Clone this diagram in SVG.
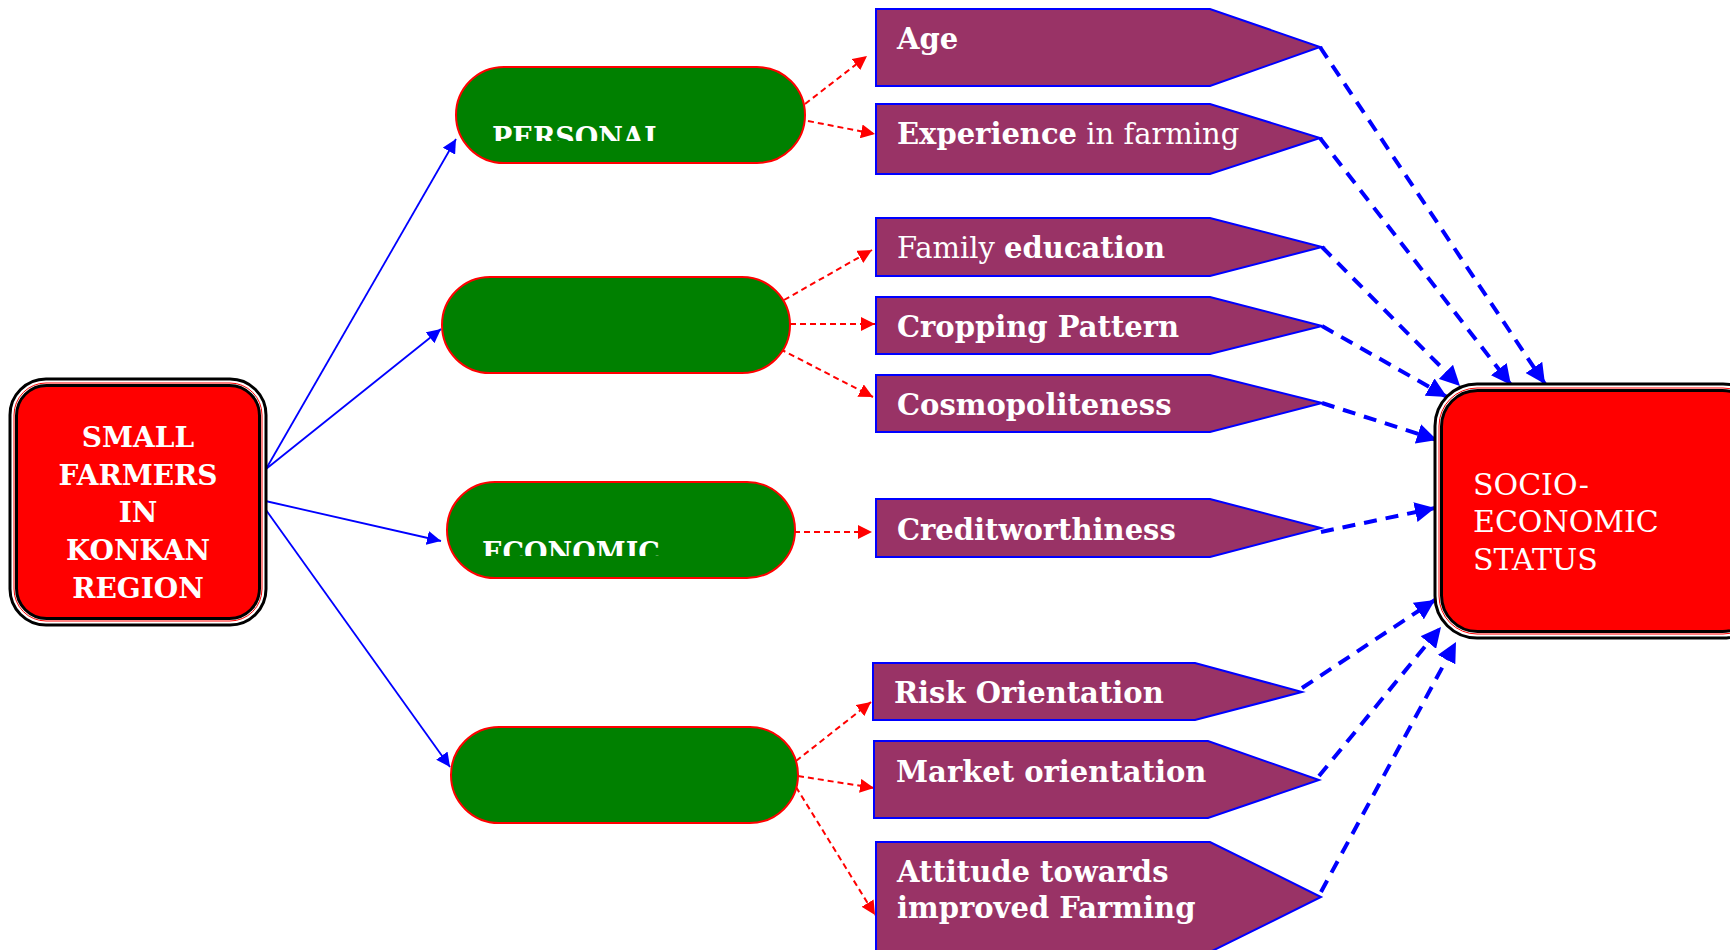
<svg xmlns="http://www.w3.org/2000/svg" width="1730" height="950" viewBox="0 0 1730 950">
  <style>
    .pill { fill: #008000; stroke: #ff0000; stroke-width: 2; }
    .tag { fill: #993366; stroke: #0000ff; stroke-width: 2; }
    .tagtxt { font-family: "DejaVu Serif", serif; font-size: 29px; fill: #ffffff; }
    .b { font-weight: bold; }
    .n { font-weight: normal; }
    .pilltxt { font-family: "DejaVu Serif", serif; font-weight: bold; font-size: 27px; fill: #ffffff; }
    .red { stroke: #ff0000; stroke-width: 2; stroke-dasharray: 6 4; fill: none; }
    .blue { stroke: #0000ff; stroke-width: 1.8; fill: none; }
    .bluedash { stroke: #0000ff; stroke-width: 4; stroke-dasharray: 13 9; fill: none; }
  </style>
  <defs>
    <marker id="ahRed" viewBox="0 0 10 10" refX="10" refY="5" markerWidth="14" markerHeight="14" markerUnits="userSpaceOnUse" orient="auto">
      <path d="M0,0 L10,5 L0,10 z" fill="#ff0000"/>
    </marker>
    <marker id="ahBlue" viewBox="0 0 10 10" refX="10" refY="5" markerWidth="14" markerHeight="14" markerUnits="userSpaceOnUse" orient="auto">
      <path d="M0,0 L10,5 L0,10 z" fill="#0000ff"/>
    </marker>
    <marker id="ahBlueBig" viewBox="0 0 10 10" refX="10" refY="5" markerWidth="20" markerHeight="20" markerUnits="userSpaceOnUse" orient="auto">
      <path d="M0,0 L10,5 L0,10 z" fill="#0000ff"/>
    </marker>
    <clipPath id="clipPersonal"><rect x="456" y="100" width="349" height="41"/></clipPath>
    <clipPath id="clipEconomic"><rect x="447" y="515" width="348" height="41"/></clipPath>
  </defs>

  <rect width="1730" height="950" fill="#ffffff"/>

  <!-- connectors -->
  <g id="connectors">
    <!-- source box to the four groups -->
    <line class="blue" x1="266" y1="469" x2="456" y2="139" marker-end="url(#ahBlue)"/>
    <line class="blue" x1="266" y1="469" x2="441" y2="329" marker-end="url(#ahBlue)"/>
    <line class="blue" x1="261" y1="500" x2="441" y2="541" marker-end="url(#ahBlue)"/>
    <line class="blue" x1="261" y1="503" x2="450" y2="767" marker-end="url(#ahBlue)"/>

    <!-- groups to variables -->
    <line class="red" x1="805" y1="104" x2="867" y2="56" marker-end="url(#ahRed)"/>
    <line class="red" x1="808" y1="121" x2="875" y2="134" marker-end="url(#ahRed)"/>
    <line class="red" x1="784" y1="300" x2="872" y2="250" marker-end="url(#ahRed)"/>
    <line class="red" x1="790" y1="324" x2="875" y2="324" marker-end="url(#ahRed)"/>
    <line class="red" x1="780" y1="349" x2="873" y2="397" marker-end="url(#ahRed)"/>
    <line class="red" x1="794" y1="532" x2="872" y2="532" marker-end="url(#ahRed)"/>
    <line class="red" x1="796" y1="761" x2="871" y2="702" marker-end="url(#ahRed)"/>
    <line class="red" x1="798" y1="776" x2="874" y2="788" marker-end="url(#ahRed)"/>
    <line class="red" x1="796" y1="787" x2="875" y2="915" marker-end="url(#ahRed)"/>

    <!-- variables to outcome -->
    <line class="bluedash" x1="1320" y1="47" x2="1545" y2="384" marker-end="url(#ahBlueBig)"/>
    <line class="bluedash" x1="1320" y1="138" x2="1511" y2="385" marker-end="url(#ahBlueBig)"/>
    <line class="bluedash" x1="1322" y1="247" x2="1460" y2="386" marker-end="url(#ahBlueBig)"/>
    <line class="bluedash" x1="1322" y1="326" x2="1447" y2="397" marker-end="url(#ahBlueBig)"/>
    <line class="bluedash" x1="1322" y1="403" x2="1437" y2="440" marker-end="url(#ahBlueBig)"/>
    <line class="bluedash" x1="1321" y1="532" x2="1435" y2="508" marker-end="url(#ahBlueBig)"/>
    <line class="bluedash" x1="1302" y1="688" x2="1435" y2="600" marker-end="url(#ahBlueBig)"/>
    <line class="bluedash" x1="1319" y1="776" x2="1441" y2="627" marker-end="url(#ahBlueBig)"/>
    <line class="bluedash" x1="1321" y1="892" x2="1456" y2="642" marker-end="url(#ahBlueBig)"/>
  </g>

  <!-- source node -->
  <g id="node-small-farmers">
    <rect x="10" y="379" width="256" height="246" rx="36" fill="#ffffff" stroke="#000000" stroke-width="3"/>
    <rect x="14" y="383" width="248" height="238" rx="32" fill="none" stroke="#ff0000" stroke-width="1"/>
    <rect x="16.5" y="385.5" width="243" height="233" rx="30" fill="#ff0000" stroke="#000000" stroke-width="3"/>
    <g font-family="DejaVu Serif, serif" font-weight="bold" font-size="28" fill="#ffffff" text-anchor="middle">
      <text x="138" y="447">SMALL</text>
      <text x="138" y="485">FARMERS</text>
      <text x="138" y="522">IN</text>
      <text x="138" y="560">KONKAN</text>
      <text x="138" y="598">REGION</text>
    </g>
  </g>

  <!-- group nodes -->
  <g id="node-personal">
    <rect class="pill" x="456" y="67" width="349" height="96" rx="48"/>
    <text class="pilltxt" x="492" y="147" clip-path="url(#clipPersonal)">PERSONAL</text>
  </g>
  <g id="node-social">
    <rect class="pill" x="442" y="277" width="348" height="96" rx="48"/>
  </g>
  <g id="node-economic">
    <rect class="pill" x="447" y="482" width="348" height="96" rx="48"/>
    <text class="pilltxt" x="482" y="562" clip-path="url(#clipEconomic)">ECONOMIC</text>
  </g>
  <g id="node-psychological">
    <rect class="pill" x="451" y="727" width="347" height="96" rx="48"/>
  </g>

  <!-- variable nodes -->
  <g id="node-age">
    <polygon class="tag" points="876,9 1210,9 1320,47 1210,86 876,86"/>
    <text class="tagtxt b" x="897" y="49">Age</text>
  </g>
  <g id="node-experience">
    <polygon class="tag" points="876,104 1210,104 1320,138 1210,174 876,174"/>
    <text class="tagtxt" x="897" y="144"><tspan class="b">Experience</tspan><tspan class="n"> in farming</tspan></text>
  </g>
  <g id="node-family-education">
    <polygon class="tag" points="876,218 1210,218 1322,247 1210,276 876,276"/>
    <text class="tagtxt" x="897" y="258"><tspan class="n">Family </tspan><tspan class="b">education</tspan></text>
  </g>
  <g id="node-cropping">
    <polygon class="tag" points="876,297 1210,297 1322,326 1210,354 876,354"/>
    <text class="tagtxt b" x="897" y="337">Cropping Pattern</text>
  </g>
  <g id="node-cosmopoliteness">
    <polygon class="tag" points="876,375 1210,375 1322,403 1210,432 876,432"/>
    <text class="tagtxt b" x="897" y="415">Cosmopoliteness</text>
  </g>
  <g id="node-creditworthiness">
    <polygon class="tag" points="876,499 1210,499 1321,528 1210,557 876,557"/>
    <text class="tagtxt b" x="897" y="540">Creditworthiness</text>
  </g>
  <g id="node-risk">
    <polygon class="tag" points="873,663 1195,663 1302,692 1195,720 873,720"/>
    <text class="tagtxt b" x="894" y="703">Risk Orientation</text>
  </g>
  <g id="node-market">
    <polygon class="tag" points="874,741 1208,741 1319,780 1208,818 874,818"/>
    <text class="tagtxt b" x="896" y="782">Market orientation</text>
  </g>
  <g id="node-attitude">
    <polygon class="tag" points="876,842 1210,842 1321,897 1210,952 876,952"/>
    <text class="tagtxt b" x="897" y="882">Attitude towards</text>
    <text class="tagtxt b" x="897" y="918">improved Farming</text>
  </g>

  <!-- outcome node -->
  <g id="node-socio-economic-status">
    <rect x="1435" y="384" width="330" height="254" rx="42" fill="#ffffff" stroke="#000000" stroke-width="3"/>
    <rect x="1439" y="388" width="322" height="246" rx="38" fill="none" stroke="#ff0000" stroke-width="1"/>
    <rect x="1441.5" y="390.5" width="317" height="241" rx="36" fill="#ff0000" stroke="#000000" stroke-width="3"/>
    <g font-family="DejaVu Serif, serif" font-size="30" fill="#ffffff">
      <text x="1473" y="495">SOCIO-</text>
      <text x="1473" y="532">ECONOMIC</text>
      <text x="1473" y="570">STATUS</text>
    </g>
  </g>
</svg>
